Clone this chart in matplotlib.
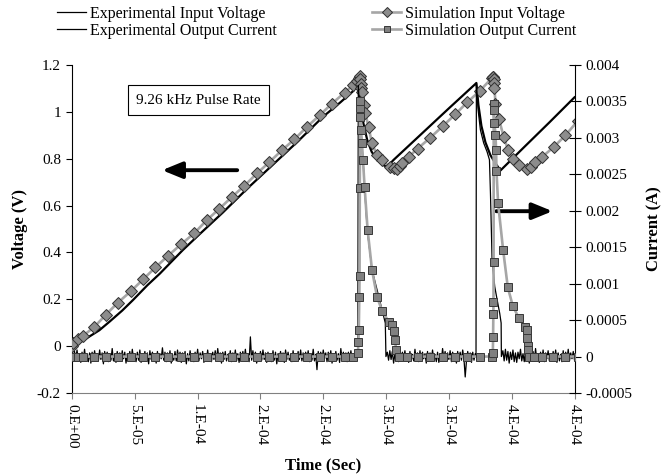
import numpy as np
import matplotlib
matplotlib.use('Agg')
import matplotlib.pyplot as plt

plt.rcParams.update({
    'font.family': 'Liberation Serif',
    'font.size': 11,
    'axes.linewidth': 0.8,
})

# time axis in microseconds, voltage in V, current in mA
# simulation input voltage (diamonds)
sim_v_t = [0, 0.6, 4.5, 8.5, 17.8, 27.1, 36.4, 47.0, 56.8, 66.4, 76.3, 86.9, 97.5, 107.3,
           117.4, 127.3, 137.1, 147.2, 157.2, 167.1, 177.1, 187.0, 197.1, 206.9, 217.0, 224.0,
           227.0, 228.5, 229.1, 229.4, 229.7, 230.1, 230.8, 232.1, 233.5, 236.1, 238.8, 242.8,
           246.8, 252.8, 256.0, 258.7, 261.4, 262.7, 268.0, 275.1, 285.3, 295.1, 305.2, 314.5,
           324.5, 334.2, 334.8, 335.2, 335.6, 335.9, 336.3, 337.1, 339.7, 343.7, 347.2, 350.8,
           355.6, 362.3, 365.0, 368.9, 374.3, 383.5, 392.8, 402.4]
sim_v = [0, 0.012, 0.029, 0.043, 0.082, 0.135, 0.185, 0.235, 0.286, 0.336, 0.385, 0.435, 0.483,
         0.538, 0.587, 0.637, 0.684, 0.737, 0.786, 0.836, 0.883, 0.936, 0.985, 1.035, 1.082, 1.115,
         1.13, 1.143, 1.152, 1.14, 1.12, 1.10, 1.085, 1.028, 0.994, 0.934, 0.865, 0.815, 0.794,
         0.765, 0.761, 0.758, 0.768, 0.78, 0.808, 0.843, 0.890, 0.939, 0.990, 1.040, 1.089, 1.144,
         1.148, 1.149, 1.14, 1.125, 1.10, 1.035, 0.971, 0.893, 0.836, 0.80, 0.772, 0.758, 0.765,
         0.786, 0.808, 0.850, 0.90, 0.96]

# simulation output current (squares)
sim_i_t = [0, 0.6, 4.5, 8.5, 17.8, 27.1, 36.4, 47.0, 56.8, 66.4, 76.3, 86.9, 97.5, 107.3, 117.4,
           127.3, 137.1, 147.2, 157.2, 167.1, 177.1, 187.0, 197.1, 206.9, 217.0, 224.0, 227.6,
           228.0, 228.3, 228.7, 228.9, 229.1, 229.3, 229.5, 229.6, 230.0, 230.8, 231.6, 232.9,
           235.3, 238.8, 242.8, 246.8, 252.0, 255.0, 256.2, 257.4, 257.8, 260.0, 266.9, 275.4,
           285.3, 295.1, 305.2, 314.5, 324.5, 334.2, 335.0, 335.2, 335.4, 335.5, 335.6, 335.7,
           335.8, 336.3, 337.1, 337.6, 337.9, 339.2, 343.2, 346.9, 350.8, 355.6, 360.4, 362.3,
           362.5, 362.7, 362.9, 363.6, 367.6, 374.3, 382.7, 392.3, 402.4]
sim_i = [0] * 26 + [0.05, 0.2, 0.37, 0.82, 1.10, 2.31, 3.29, 3.41, 3.50, 3.11, 2.93, 2.70, 2.33,
                    1.74, 1.19, 0.82, 0.63, 0.48, 0.43, 0.35, 0.23, 0.09, 0, 0, 0, 0, 0, 0, 0,
                    0, 0, 0.05, 0.27, 0.59, 0.75, 1.30, 3.47, 3.38, 3.20, 3.04, 2.83, 2.54, 2.10,
                    1.46, 0.95, 0.70, 0.53, 0.41, 0.36, 0.25, 0.15, 0.09, 0, 0, 0, 0, 0, 0]

# experimental input voltage
exp_v_t = [0, 5, 10, 15, 21.8, 30, 40, 48.4, 60, 70, 88.2, 100, 120, 140, 160, 180, 200, 213.5,
           224.1, 227.2, 228.5, 230, 232, 235, 238.5, 243, 247, 250.8, 256, 277, 300, 321.9,
           323.5, 325.9, 329.1, 333.1, 337.1, 341.1, 360, 380, 400]
exp_v = [0, 0.012, 0.028, 0.045, 0.068, 0.105, 0.152, 0.196, 0.26, 0.31, 0.41, 0.47, 0.57, 0.675,
         0.775, 0.875, 0.98, 1.04, 1.09, 1.125, 1.10, 1.02, 0.95, 0.88, 0.83, 0.795, 0.775, 0.765,
         0.795, 0.90, 1.015, 1.123, 1.03, 0.94, 0.87, 0.815, 0.78, 0.75, 0.85, 0.955, 1.062]

# experimental output current: noisy baseline pieces (units of 0.01 mA, one per us)
noise_a = [4, -6, 7, -3, 9, -5, 3, -8, 6, -4, 10, -6, 2, -7, 5, -9, 6, -3, 8, -5,
           3, -6, 9, -4, 5, -10, 7, -3, 6, -7, 4, -5, 11, -6, 3, -8, 7, -4, 5, -6,
           8, -3, 6, -9, 4, -5, 7, -6, 10, -4, 3, -7, 6, -5, 9, -8, 4, -3, 7, -6,
           5, -10, 8, -4, 6, -5, 3, -9, 7, -6, 4, -3, 12, -5, 6, -7, 5, -4, 8, -9,
           3, -5, 7, -6, 9, -4, 6, -8, 5, -3, 7, -10, 4, -6, 8, -5, 3, -7, 6, -4,
           10, -6, 5, -3, 7, -8, 4, -5, 9, -6, 3, -7, 6, -4, 8, -5, 11, -3, 5, -9,
           6, -4, 7, -6, 3, -5, 8, -7, 5, -4, 9, -6, 4, -8, 6, -3, 7, -5, 10, -6,
           4, -7, 27, -5, 8, -4, 6, -9, 3, -6, 7, -5, 9, -4, 5, -8, 6, -3, 4, -7,
           8, -5, 6, -10, 4, -6, 7, -3, 5, -8, 9, -4, 6, -5, 3, -7, 8, -6, 4, -5,
           7, -4, 9, -6, 5, -6, 6, -3, 8, -7, 4, -5, 10, -6, 3, -18, 7, -4, 6, -5,
           9, -3, 5, -7, 6, -4, 8, -9, 3, -6, 7, -5, 4, -8, 11, -4, 6, -3, 5, -7,
           6, -5, 8, -4, 3, -6, 7]
noise_b = [6, -5, 8, -4, 7, -9, 3, -6, 5, -7, 9, -4, 6, -3, 8, -6, 4, -8, 7, -5,
           3, -6, 10, -4, 5, -7, 8, -5, 6, -3, 4, -9, 7, -6, 5, -4, 9, -5, 3, -7,
           6, -8, 4, -5, 11, -3, 7, -6, 5, -4, 8, -7, 6, -5, 3, -9, 7, -4, 6, -5,
           9, -3, -28, -6, 7, -4, 5, -8, 6, -5, 4]
noise_c = [8, -6, 10, -5, 7, -9, 6, -4, 9, -7, 5, -8, 6, -3, 10, -6, 4, -7, 8, -5,
           6, -9, 5, -4, 7, -6, 11, -5, 3, -8, 6, -4, 9, -7, 5, -3, 8, -6, 4, -5,
           7, -4, 9, -8, 5, -6, 3, -7, 8, -5, 6, -4, 10, -6, 5, -3, 7, -5, 6]
pulse1_t = [227.5, 227.9, 229.0, 230.5, 232.0, 233.3, 235.0, 238.8, 243.5, 249.4, 249.9]
pulse1_i = [0.0, 3.72, 3.35, 3.0, 2.6, 2.2, 1.74, 1.19, 0.87, 0.46, 0.0]
pulse2_t = [321.6, 321.9, 323.3, 325.1, 327.7, 330.4, 332.3, 333.1, 334.4, 336.5, 338.4, 340.5,
            341.6, 341.8]
pulse2_i = [0.0, 3.76, 3.38, 3.11, 2.93, 2.81, 2.70, 2.24, 1.33, 0.96, 0.78, 0.59, 0.46, 0.0]

x_ticks = [0, 5e-5, 1e-4, 1.5e-4, 2e-4, 2.5e-4, 3e-4, 3.5e-4, 4e-4]
x_tick_labels = ['0.E+00', '5.E-05', '1.E-04', '2.E-04', '2.E-04', '3.E-04', '3.E-04', '4.E-04', '4.E-04']
v_ticks = [-0.2, 0, 0.2, 0.4, 0.6, 0.8, 1.0, 1.2]
v_tick_labels = ['-0.2', '0', '0.2', '0.4', '0.6', '0.8', '1', '1.2']
i_ticks = [-0.0005, 0, 0.0005, 0.001, 0.0015, 0.002, 0.0025, 0.003, 0.0035, 0.004]
i_tick_labels = ['-0.0005', '0', '0.0005', '0.001', '0.0015', '0.002', '0.0025', '0.003', '0.0035', '0.004']

# assemble experimental current trace
exp_i_t = np.concatenate([0 + np.arange(len(noise_a)), pulse1_t,
                          251 + np.arange(len(noise_b)), pulse2_t,
                          343 + np.arange(len(noise_c))])
exp_i = np.concatenate([np.array(noise_a) / 100, pulse1_i, np.array(noise_b) / 100, pulse2_i,
                        np.array(noise_c) / 100])

us = 1e-6
ma = 1e-3

fig = plt.figure(figsize=(6.63, 4.74), dpi=100)
ax1 = fig.add_axes([72 / 663, 1 - 393 / 474, (574.5 - 72) / 663, (393 - 65) / 474])
ax2 = ax1.twinx()

h1, = ax1.plot(np.array(exp_v_t) * us, exp_v, color='black', lw=1.6, zorder=2,
               label='Experimental Input Voltage')
h2, = ax2.plot(exp_i_t * us, exp_i * ma, color='black', lw=0.9, zorder=2,
               label='Experimental Output Current')
h3, = ax1.plot(np.array(sim_v_t) * us, sim_v, color='#a6a6a6', lw=1.9, marker='D', ms=6.2,
               mfc='#8c8c8c', mec='#303030', mew=0.7, zorder=3, label='Simulation Input Voltage')
h4, = ax2.plot(np.array(sim_i_t) * us, np.array(sim_i) * ma, color='#a6a6a6', lw=1.9, marker='s',
               ms=6.0, mfc='#808080', mec='#383838', mew=0.7, zorder=3,
               label='Simulation Output Current')

ax1.set_xlim(0, 4e-4)
ax1.set_ylim(-0.2, 1.2)
ax2.set_ylim(-0.0005, 0.004)

ax1.set_xticks(x_ticks)
ax1.set_xticklabels(x_tick_labels, rotation=-90)
ax1.set_yticks(v_ticks)
ax1.set_yticklabels(v_tick_labels)
ax2.set_yticks(i_ticks)
ax2.set_yticklabels(i_tick_labels)

ax1.tick_params(axis='y', direction='out', length=4, width=0.8, labelsize=11, pad=4)
ax1.tick_params(axis='x', direction='out', length=4, width=0.8, color='#808080', labelsize=11, pad=4)
ax2.tick_params(axis='y', direction='inout', length=8, width=0.8, labelsize=11, pad=4)

for ax in (ax1, ax2):
    ax.spines['top'].set_visible(False)
ax1.spines['right'].set_visible(False)
ax2.spines['left'].set_visible(False)
ax2.spines['bottom'].set_visible(False)
ax1.spines['bottom'].set_color('#808080')
ax1.patch.set_visible(False)

ax1.set_xlabel('Time (Sec)', fontweight='bold', fontsize=12, labelpad=6)
ax1.set_ylabel('Voltage (V)', fontweight='bold', fontsize=12, labelpad=6)
ax2.set_ylabel('Current (A)', fontweight='bold', fontsize=12, labelpad=10)

# pulse rate label and direction arrows
ax1.text(100.8 * us, 1.05, '9.26 kHz Pulse Rate', ha='center', va='center', fontsize=11,
         bbox=dict(boxstyle='square,pad=0.55', fc='white', ec='black', lw=0.8))
ax1.annotate('', xy=(71.7 * us, 0.751), xytext=(131.5 * us, 0.751),
             arrowprops=dict(arrowstyle='-|>,head_length=1.1,head_width=0.45', lw=2.8,
                             color='black', shrinkA=0, shrinkB=0))
ax1.annotate('', xy=(382.5 * us, 0.576), xytext=(337.8 * us, 0.576),
             arrowprops=dict(arrowstyle='-|>,head_length=1.1,head_width=0.45', lw=2.8,
                             color='black', shrinkA=0, shrinkB=0))

leg = fig.legend([h1, h2, h3, h4], [h.get_label() for h in (h1, h2, h3, h4)],
                 loc='upper left', bbox_to_anchor=(57 / 663, 1 - 6 / 474), ncol=2, frameon=False,
                 fontsize=11.5, handlelength=1.8, handletextpad=0.25, columnspacing=6.0,
                 labelspacing=0.05, borderpad=0, borderaxespad=0, markerscale=0.75)
# thin legend line for the experimental voltage, as in the original
leg.get_lines()[0].set_linewidth(0.9)

fig.savefig('out.png', dpi=100)
